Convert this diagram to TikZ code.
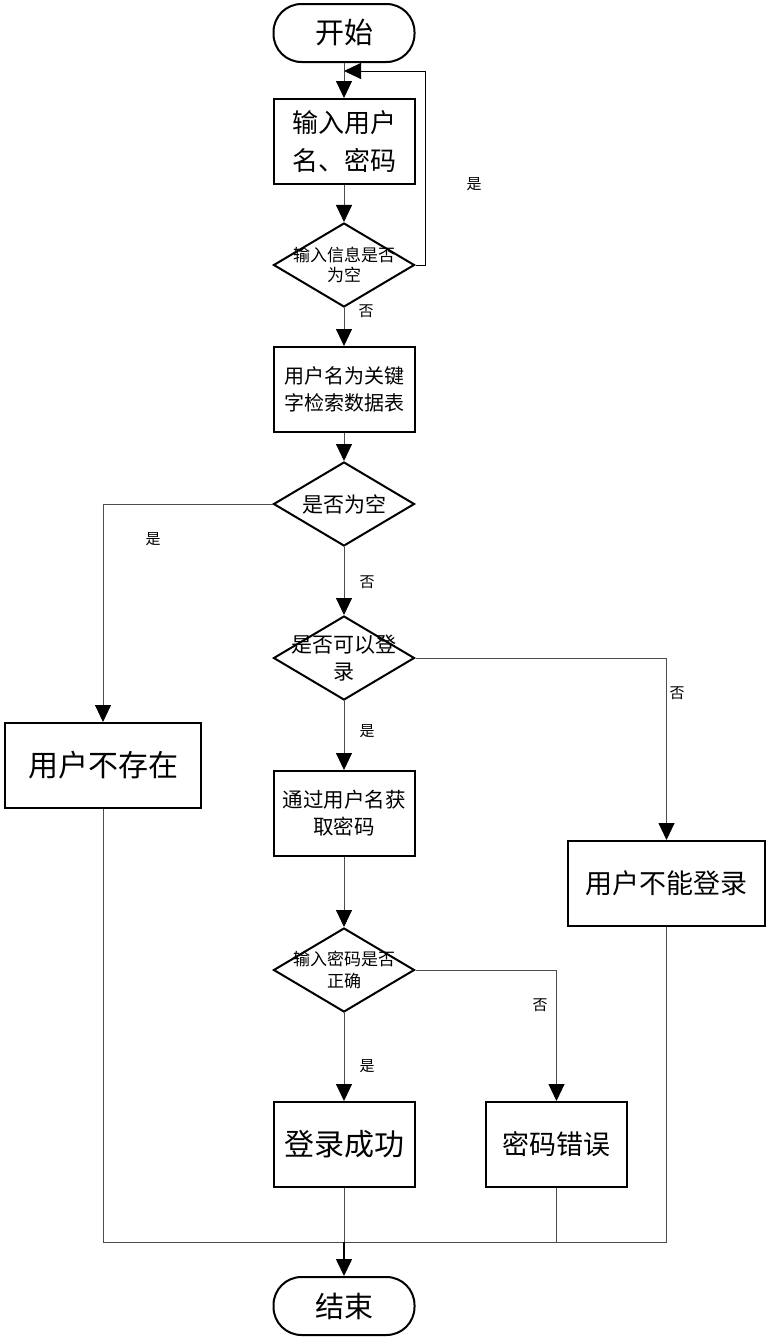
\documentclass[tikz,border=0pt]{standalone}
\usepackage{fontspec}
\setmainfont{Noto Sans CJK SC}
\usepackage{tikz}
\usetikzlibrary{arrows.meta,positioning,shapes.geometric,calc}
\tikzset{
  term/.style={draw, line width=2pt, rounded corners=28pt, minimum width=141pt, minimum height=58pt, inner sep=0pt, font=\fontsize{29pt}{34pt}\selectfont},
  proc/.style={draw, line width=2pt, minimum width=141pt, minimum height=85pt, inner sep=0pt, align=center},
  decision/.style={diamond, draw, line width=2pt, minimum width=141pt, minimum height=84pt, inner sep=0pt},
  dtext/.style={align=center, inner sep=0pt},
  conn/.style={line width=0.9pt, draw=black!70},
  arrconn/.style={conn, -{Triangle[length=17pt,width=16pt,black]}},
  lbl/.style={inner sep=0pt, font=\fontsize{15pt}{15pt}\selectfont},
}
\begin{document}
\begin{tikzpicture}[x=1pt, y=-1pt]
\useasboundingbox (0,0) rectangle (771,1341);

% main column
\node[term] (start) at (344,33) {开始};
\node[proc, below=35pt of start, font=\fontsize{26pt}{38pt}\selectfont] (in1) {输入用户\\名、密码};
\node[decision, below=37pt of in1] (d1) {};
\node[dtext, font=\fontsize{17pt}{20pt}\selectfont] (d1t) at (d1) {输入信息是否\\为空};
\node[proc, below=38pt of d1, font=\fontsize{20pt}{27pt}\selectfont] (search) {用户名为关键\\字检索数据表};
\node[decision, below=28pt of search] (d2) {};
\node[dtext, font=\fontsize{21pt}{24pt}\selectfont] (d2t) at (d2) {是否为空};
\node[decision, below=68pt of d2] (d3) {};
\node[dtext, font=\fontsize{21pt}{27pt}\selectfont] (d3t) at (d3) {是否可以登\\录};
\node[proc, below=69pt of d3, font=\fontsize{20.5pt}{27pt}\selectfont] (getpwd) {通过用户名获\\取密码};
\node[decision, below=70pt of getpwd] (d4) {};
\node[dtext, font=\fontsize{17pt}{22pt}\selectfont] (d4t) at (d4) {输入密码是否\\正确};
\node[proc, below=88pt of d4, font=\fontsize{30pt}{36pt}\selectfont] (ok) {登录成功};
\node[term, below=88pt of ok] (end) {结束};

% side nodes
\node[proc, minimum width=196pt, font=\fontsize{30pt}{36pt}\selectfont] (nouser) at (103,765.5) {用户不存在};
\node[proc, minimum width=197pt, font=\fontsize{27pt}{32pt}\selectfont] (noperm) at (666.5,883.5) {用户不能登录};
\node[proc, right=69.5pt of ok, font=\fontsize{27pt}{32pt}\selectfont] (pwdbad) {密码错误};

\coordinate (loopin) at (344,71);
\coordinate (merge) at (344,1242);

% connectors
\draw[arrconn] (start) -- (in1);
\draw[arrconn] (in1) -- (d1);
\draw[arrconn, draw=black] (d1.east) -- ++(10,0) |- (loopin);
\draw[arrconn] (d1) -- (search);
\draw[arrconn] (search) -- (d2);
\draw[arrconn] (d2.west) -| (nouser.north);
\draw[arrconn] (d2) -- (d3);
\draw[arrconn] (d3.east) -| (noperm.north);
\draw[arrconn] (d3) -- (getpwd);
\draw[arrconn] (getpwd) -- (d4);
\draw[arrconn] (d4.east) -| (pwdbad.north);
\draw[arrconn] (d4) -- (ok);
\draw[conn] (nouser.south) |- (merge);
\draw[conn] (noperm.south) |- (merge);
\draw[conn] (pwdbad.south) -- (pwdbad.south |- merge);
\draw[conn] (ok) -- (merge);
\draw[arrconn, line width=1.6pt, draw=black] (merge) -- (end);

% branch labels
\node[lbl] (yes1) at (474,184) {是};
\node[lbl] (no1) at (366,311) {否};
\node[lbl] (yes2) at (153,539) {是};
\node[lbl] (no2) at (367,582) {否};
\node[lbl] (no3) at (677,693) {否};
\node[lbl] (yes3) at (367,731) {是};
\node[lbl] (no4) at (540,1005) {否};
\node[lbl] (yes4) at (367,1066) {是};
\end{tikzpicture}
\end{document}
